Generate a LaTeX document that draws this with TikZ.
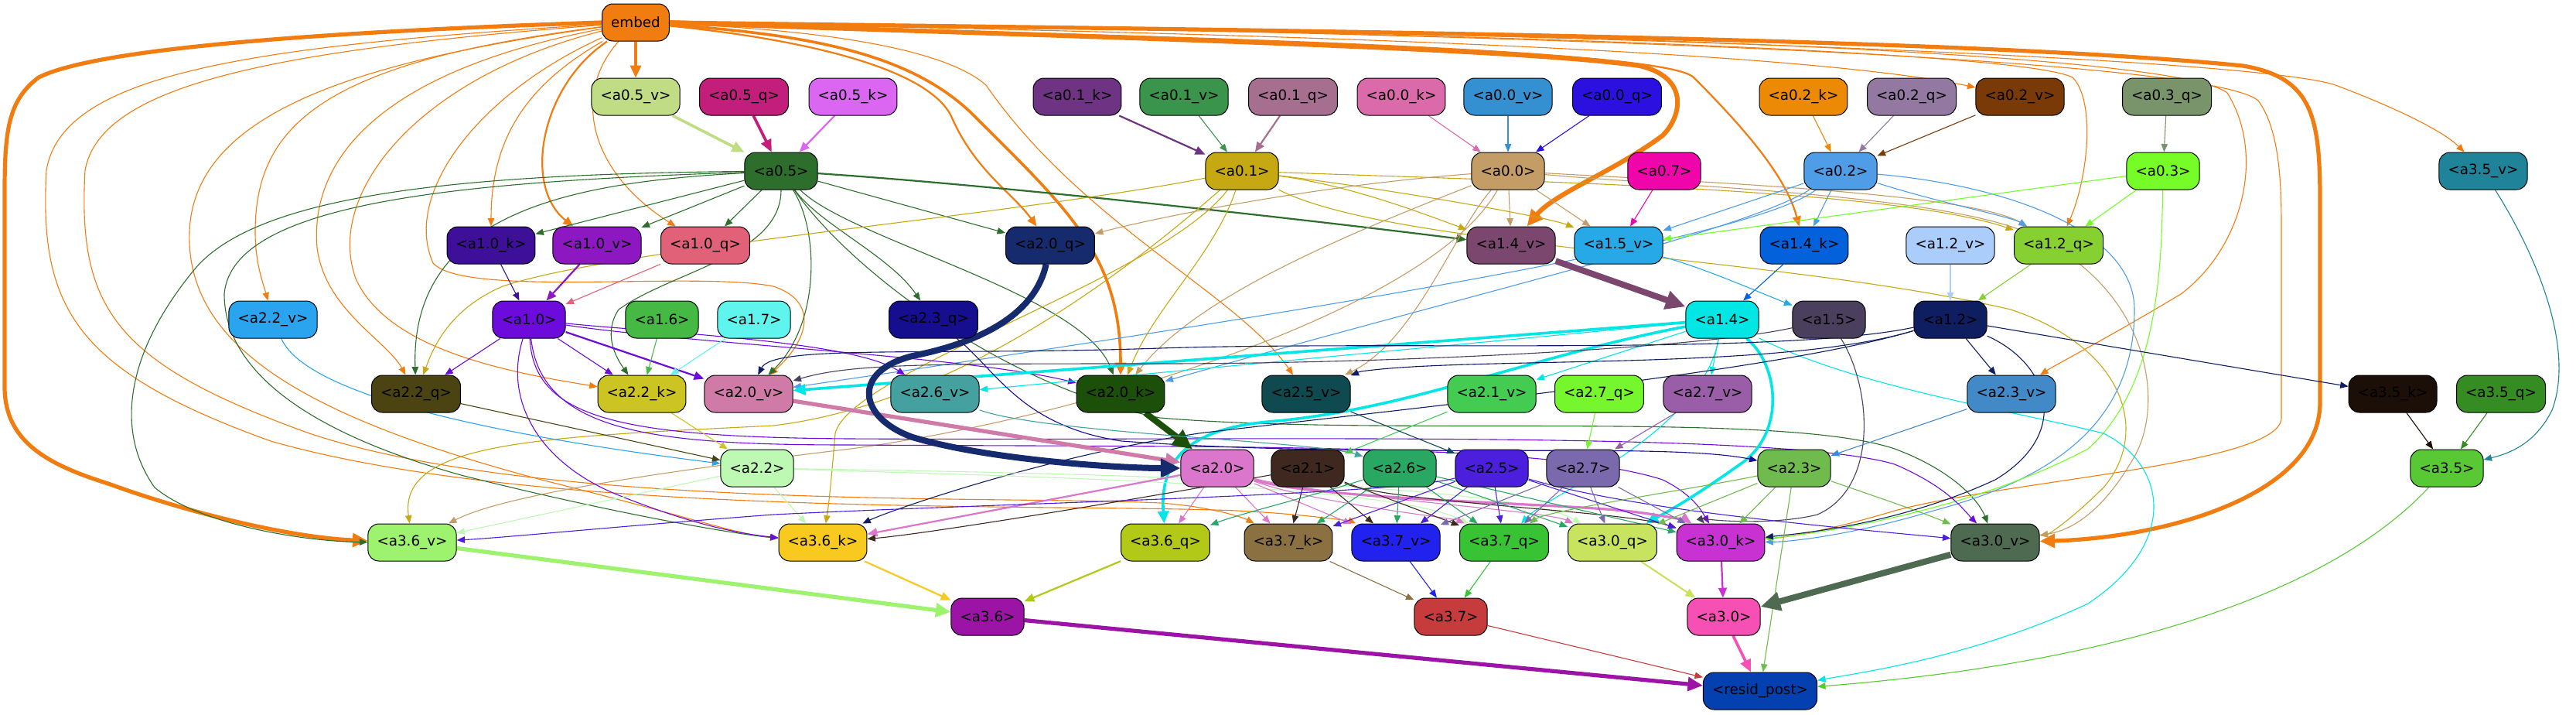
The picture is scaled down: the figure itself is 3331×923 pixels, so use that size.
\documentclass[tikz,border=0pt]{standalone}
\usepackage{fontspec}
\setmainfont{DejaVu Sans}
\usetikzlibrary{arrows.meta}
\pgfdeclarelayer{bg}
\pgfsetlayers{bg,main}
\definecolor{embed}{HTML}{F17C0F}
\definecolor{a05v}{HTML}{C0DC84}
\definecolor{a05q}{HTML}{C41E7C}
\definecolor{a05k}{HTML}{DA66F2}
\definecolor{a01k}{HTML}{6E3382}
\definecolor{a01v}{HTML}{3A944B}
\definecolor{a01q}{HTML}{A66F8F}
\definecolor{a00k}{HTML}{DA6AA9}
\definecolor{a00v}{HTML}{3490D0}
\definecolor{a00q}{HTML}{2C10DF}
\definecolor{a02k}{HTML}{ED8A05}
\definecolor{a02q}{HTML}{9379A1}
\definecolor{a02v}{HTML}{793A08}
\definecolor{a03q}{HTML}{79936A}
\definecolor{a05}{HTML}{2D6E2D}
\definecolor{a01}{HTML}{C5A812}
\definecolor{a00}{HTML}{C49D66}
\definecolor{a07}{HTML}{F005AB}
\definecolor{a02}{HTML}{4F9DE6}
\definecolor{a03}{HTML}{76FD27}
\definecolor{a35v}{HTML}{1F8499}
\definecolor{a10k}{HTML}{3E0F99}
\definecolor{a10v}{HTML}{8D17C1}
\definecolor{a10q}{HTML}{E06178}
\definecolor{a20q}{HTML}{162A6E}
\definecolor{a14v}{HTML}{7B476F}
\definecolor{a15v}{HTML}{27A9E8}
\definecolor{a14k}{HTML}{0461DC}
\definecolor{a12v}{HTML}{ABCDFB}
\definecolor{a12q}{HTML}{86D032}
\definecolor{a22v}{HTML}{2AA4EF}
\definecolor{a10}{HTML}{6D0BDC}
\definecolor{a16}{HTML}{45B944}
\definecolor{a17}{HTML}{5FF4ED}
\definecolor{a23q}{HTML}{150E8E}
\definecolor{a14}{HTML}{03E6E6}
\definecolor{a15}{HTML}{4B3F5E}
\definecolor{a12}{HTML}{0E1E61}
\definecolor{a22q}{HTML}{4B4412}
\definecolor{a22k}{HTML}{CBC423}
\definecolor{a20v}{HTML}{D07BA7}
\definecolor{a26v}{HTML}{45A19F}
\definecolor{a20k}{HTML}{1B4F0A}
\definecolor{a25v}{HTML}{0E4A4F}
\definecolor{a21v}{HTML}{44CB52}
\definecolor{a27q}{HTML}{76F62C}
\definecolor{a27v}{HTML}{9A5EA8}
\definecolor{a23v}{HTML}{4289C8}
\definecolor{a35k}{HTML}{1B0F08}
\definecolor{a35q}{HTML}{348C22}
\definecolor{a22}{HTML}{BDF9B2}
\definecolor{a20}{HTML}{DA76CB}
\definecolor{a21}{HTML}{3E2820}
\definecolor{a26}{HTML}{28A862}
\definecolor{a25}{HTML}{4B1FDB}
\definecolor{a27}{HTML}{7B69AD}
\definecolor{a23}{HTML}{6FBB4E}
\definecolor{a35}{HTML}{58C935}
\definecolor{a36v}{HTML}{9EF36E}
\definecolor{a36k}{HTML}{F8C91F}
\definecolor{a36q}{HTML}{B3C917}
\definecolor{a37k}{HTML}{8B7141}
\definecolor{a37v}{HTML}{2222EE}
\definecolor{a37q}{HTML}{38C335}
\definecolor{a30q}{HTML}{C8E45E}
\definecolor{a30k}{HTML}{C932D2}
\definecolor{a30v}{HTML}{4E6A51}
\definecolor{a36}{HTML}{9B14A6}
\definecolor{a37}{HTML}{C63B3C}
\definecolor{a30}{HTML}{F650B4}
\definecolor{resid}{HTML}{0540B0}
\newcommand{\mknd}[4]{\node[nd,fill=#1] (#1) at (#2,#3) {#4};}
\begin{document}
\begin{tikzpicture}[x=0.5pt,y=-0.5pt,
  nd/.style={draw=black,line width=0.5pt,rounded corners=7pt,minimum height=24pt,inner xsep=5.8pt,inner ysep=0pt,text=black,font=\fontsize{9.15pt}{11pt}\selectfont},
  ar/.style={-{Triangle[length=4pt 2.2,width=3pt 2.2]}},
  w1/.style={line width=0.55pt},
  w2/.style={line width=1.1pt},
  w3/.style={line width=1.8pt},
  w4/.style={line width=2.6pt},
  w5/.style={line width=4pt}]
\useasboundingbox (0,0) rectangle (3331,923);
% nodes
\mknd{embed}{822}{29}{embed}
\mknd{a05v}{822}{125}{<a0.5\_v>}
\mknd{a05q}{962}{125}{<a0.5\_q>}
\mknd{a05k}{1103}{125}{<a0.5\_k>}
\mknd{a01k}{1393}{125}{<a0.1\_k>}
\mknd{a01v}{1531}{125}{<a0.1\_v>}
\mknd{a01q}{1672}{125}{<a0.1\_q>}
\mknd{a00k}{1812}{125}{<a0.0\_k>}
\mknd{a00v}{1950}{125}{<a0.0\_v>}
\mknd{a00q}{2091}{125}{<a0.0\_q>}
\mknd{a02k}{2332}{125}{<a0.2\_k>}
\mknd{a02q}{2472}{125}{<a0.2\_q>}
\mknd{a02v}{2612}{125}{<a0.2\_v>}
\mknd{a03q}{2802}{125}{<a0.3\_q>}
\mknd{a05}{1010}{221}{<a0.5>}
\mknd{a01}{1606}{221}{<a0.1>}
\mknd{a00}{1950}{221}{<a0.0>}
\mknd{a07}{2152}{221}{<a0.7>}
\mknd{a02}{2380}{221}{<a0.2>}
\mknd{a03}{2797}{221}{<a0.3>}
\mknd{a35v}{3211}{221}{<a3.5\_v>}
\mknd{a10k}{635}{317}{<a1.0\_k>}
\mknd{a10v}{772}{317}{<a1.0\_v>}
\mknd{a10q}{912}{317}{<a1.0\_q>}
\mknd{a20q}{1358}{317}{<a2.0\_q>}
\mknd{a14v}{1954}{317}{<a1.4\_v>}
\mknd{a15v}{2093}{317}{<a1.5\_v>}
\mknd{a14k}{2333}{317}{<a1.4\_k>}
\mknd{a12v}{2522}{317}{<a1.2\_v>}
\mknd{a12q}{2662}{317}{<a1.2\_q>}
\mknd{a22v}{353}{413}{<a2.2\_v>}
\mknd{a10}{684}{413}{<a1.0>}
\mknd{a16}{856}{413}{<a1.6>}
\mknd{a17}{975}{413}{<a1.7>}
\mknd{a23q}{1207}{413}{<a2.3\_q>}
\mknd{a14}{2227}{413}{<a1.4>}
\mknd{a15}{2365}{413}{<a1.5>}
\mknd{a12}{2522}{413}{<a1.2>}
\mknd{a22q}{538}{509}{<a2.2\_q>}
\mknd{a22k}{830}{509}{<a2.2\_k>}
\mknd{a20v}{968}{509}{<a2.0\_v>}
\mknd{a26v}{1209}{509}{<a2.6\_v>}
\mknd{a20k}{1449}{509}{<a2.0\_k>}
\mknd{a25v}{1689}{509}{<a2.5\_v>}
\mknd{a21v}{1929}{509}{<a2.1\_v>}
\mknd{a27q}{2068}{509}{<a2.7\_q>}
\mknd{a27v}{2208}{509}{<a2.7\_v>}
\mknd{a23v}{2601}{509}{<a2.3\_v>}
\mknd{a35k}{3094}{509}{<a3.5\_k>}
\mknd{a35q}{3234}{509}{<a3.5\_q>}
\mknd{a22}{979}{605}{<a2.2>}
\mknd{a20}{1574}{605}{<a2.0>}
\mknd{a21}{1691}{605}{<a2.1>}
\mknd{a26}{1810}{605}{<a2.6>}
\mknd{a25}{1929}{605}{<a2.5>}
\mknd{a27}{2047}{605}{<a2.7>}
\mknd{a23}{2320}{605}{<a2.3>}
\mknd{a35}{3164}{605}{<a3.5>}
\mknd{a36v}{533}{701}{<a3.6\_v>}
\mknd{a36k}{1064}{701}{<a3.6\_k>}
\mknd{a36q}{1507}{701}{<a3.6\_q>}
\mknd{a37k}{1666}{701}{<a3.7\_k>}
\mknd{a37v}{1805}{701}{<a3.7\_v>}
\mknd{a37q}{1945}{701}{<a3.7\_q>}
\mknd{a30q}{2085}{701}{<a3.0\_q>}
\mknd{a30k}{2225}{701}{<a3.0\_k>}
\mknd{a30v}{2580}{701}{<a3.0\_v>}
\mknd{a36}{1277}{797}{<a3.6>}
\mknd{a37}{1876}{797}{<a3.7>}
\mknd{a30}{2229}{797}{<a3.0>}
\mknd{resid}{2276}{893}{<resid\_post>}
\begin{pgfonlayer}{bg}
\fill[white] (0,0) rectangle (3331,923);
% embed
\draw[ar,w3,draw=embed] (embed) -- (a05v);
\draw[ar,w4,draw=embed] (embed.west) .. controls (450,40) and (130,60) .. (50,100) .. controls (10,130) and (6,170) .. (6,250) -- (6,500) .. controls (6,570) and (60,600) .. (140,625) .. controls (250,665) and (380,695) .. (a36v);
\draw[ar,line width=3pt,draw=embed] (embed.east) .. controls (1300,45) and (1950,60) .. (2120,85) .. controls (2185,100) and (2175,150) .. (2150,175) .. controls (2090,220) and (2010,250) .. (a14v);
\draw[ar,w4,draw=embed] (embed.east) .. controls (1500,38) and (2500,45) .. (2900,85) .. controls (2990,100) and (3000,150) .. (3000,260) -- (3000,520) .. controls (3000,640) and (2800,695) .. (a30v);
\draw[ar,w3,draw=embed] (embed) .. controls (1050,45) and (1180,70) .. (1260,150) .. controls (1380,270) and (1449,330) .. (a20k);
\draw[ar,w2,draw=embed] (embed) .. controls (1050,52) and (1200,90) .. (1230,150) .. controls (1260,220) and (1310,250) .. (a20q);
\draw[ar,w2,draw=embed] (embed) .. controls (700,110) and (675,240) .. (a10v);
\draw[ar,w1,draw=embed] (embed) .. controls (680,110) and (635,180) .. (a10k);
\draw[ar,w1,draw=embed] (embed) .. controls (740,120) and (760,220) .. (a10q);
\draw[ar,w1,draw=embed] (embed) .. controls (420,80) and (330,160) .. (330,300) .. controls (330,340) and (340,365) .. (a22v);
\draw[ar,w1,draw=embed] (embed) .. controls (500,90) and (400,200) .. (410,320) .. controls (420,400) and (500,440) .. (a22q);
\draw[ar,w1,draw=embed] (embed) .. controls (540,100) and (420,250) .. (460,360) .. controls (500,450) and (650,480) .. (a22k);
\draw[ar,w1,draw=embed] (embed) .. controls (620,120) and (520,250) .. (560,340) .. controls (600,385) and (900,350) .. (1000,370) .. controls (1060,390) and (1045,440) .. (a20v);
\draw[ar,w1,draw=embed] (embed) .. controls (1100,40) and (1230,70) .. (1275,110) .. controls (1400,290) and (1600,380) .. (a25v);
\draw[ar,w1,draw=embed] (embed) .. controls (1500,40) and (2300,60) .. (a02v);
\draw[ar,w1,draw=embed] (embed) .. controls (1600,35) and (2600,60) .. (2680,100) .. controls (2710,130) and (2700,230) .. (a12q);
\draw[ar,w2,draw=embed] (embed) .. controls (1400,45) and (2150,60) .. (2190,100) .. controls (2260,170) and (2310,230) .. (a14k);
\draw[ar,w1,draw=embed] (embed) .. controls (1800,35) and (2900,70) .. (3020,110) .. controls (3100,140) and (3160,170) .. (a35v);
\draw[ar,w1,draw=embed] (embed) .. controls (1800,35) and (2800,60) .. (2880,120) .. controls (2930,200) and (2900,320) .. (2820,380) .. controls (2720,440) and (2660,470) .. (a23v);
\draw[ar,w1,draw=embed] (embed) .. controls (1800,38) and (2850,70) .. (2920,130) .. controls (2950,170) and (2950,250) .. (2950,300) -- (2950,540) .. controls (2950,600) and (2600,620) .. (2450,660) .. controls (2350,690) and (2300,695) .. (a30k);
\draw[ar,w1,draw=embed] (embed) .. controls (450,80) and (250,150) .. (245,300) .. controls (240,450) and (400,540) .. (700,620) .. controls (900,670) and (950,690) .. (a36k);
\draw[ar,w1,draw=embed] (embed) .. controls (350,65) and (130,110) .. (110,220) .. controls (100,400) and (150,470) .. (400,560) .. controls (700,660) and (1300,640) .. (1500,650) .. controls (1570,655) and (1610,670) .. (a37k);
\draw[ar,w1,draw=embed] (embed) .. controls (300,60) and (80,100) .. (60,220) .. controls (50,400) and (100,480) .. (350,570) .. controls (700,670) and (1350,650) .. (1600,660) .. controls (1700,665) and (1750,675) .. (a37v);
% row1 -> row2
\draw[ar,w3,draw=a05v] (a05v) -- (a05);
\draw[ar,w3,draw=a05q] (a05q) -- (a05);
\draw[ar,w2,draw=a05k] (a05k) -- (a05);
\draw[ar,w2,draw=a01k] (a01k) -- (a01);
\draw[ar,w1,draw=a01v] (a01v) -- (a01);
\draw[ar,w2,draw=a01q] (a01q) -- (a01);
\draw[ar,w1,draw=a00k] (a00k) -- (a00);
\draw[ar,w1,draw=a00v] (a00v) -- (a00);
\draw[ar,w1,draw=a00q] (a00q) -- (a00);
\draw[ar,w1,draw=a02k] (a02k) -- (a02);
\draw[ar,w1,draw=a02q] (a02q) -- (a02);
\draw[ar,w1,draw=a02v] (a02v) -- (a02);
\draw[ar,w1,draw=a03q] (a03q) -- (a03);
% a0.5
\draw[ar,w1,draw=a05] (a05) -- (a10k);
\draw[ar,w1,draw=a05] (a05) -- (a10v);
\draw[ar,w1,draw=a05] (a05) -- (a10q);
\draw[ar,w1,draw=a05] (a05) -- (a20q);
\draw[ar,w2,draw=a05] (a05) .. controls (1300,240) and (1700,285) .. (a14v);
\draw[ar,w1,draw=a05] (a05) .. controls (1060,290) and (1150,330) .. (a23q);
\draw[ar,w1,draw=a05] (a05) .. controls (750,235) and (530,270) .. (a22q);
\draw[ar,w1,draw=a05] (a05) .. controls (1010,330) and (870,350) .. (800,400) .. controls (780,430) and (795,460) .. (a22k);
\draw[ar,w1,draw=a05] (a05) .. controls (1060,300) and (1060,420) .. (a20v);
\draw[ar,w1,draw=a05] (a05) .. controls (1100,310) and (1400,380) .. (a20k);
\draw[ar,w1,draw=a05] (a05) .. controls (600,225) and (330,250) .. (250,350) .. controls (160,460) and (150,560) .. (200,630) .. controls (260,680) and (400,700) .. (a36v);
\draw[ar,w1,draw=a05] (a05) .. controls (600,235) and (300,260) .. (290,380) .. controls (290,480) and (400,560) .. (600,615) .. controls (800,665) and (950,690) .. (a36k);
\draw[ar,w1,draw=a05] (a05) .. controls (1100,350) and (1300,500) .. (1500,540) .. controls (1800,565) and (2300,530) .. (2450,580) .. controls (2530,610) and (2560,650) .. (a30v);
% a0.1
\draw[ar,w1,draw=a01] (a01) .. controls (1300,280) and (800,320) .. (650,370) .. controls (580,400) and (560,450) .. (a22q);
\draw[ar,w1,draw=a01] (a01) .. controls (1750,240) and (1850,280) .. (a14v);
\draw[ar,w1,draw=a01] (a01) .. controls (1800,245) and (2000,280) .. (a15v);
\draw[ar,w1,draw=a01] (a01) .. controls (2000,235) and (2450,245) .. (a12q);
\draw[ar,w1,draw=a01] (a01) .. controls (1570,330) and (1490,400) .. (a20k);
\draw[ar,w1,draw=a01] (a01) .. controls (1480,330) and (1250,520) .. (1000,550) .. controls (700,565) and (515,570) .. (a36v);
\draw[ar,w1,draw=a01] (a01) .. controls (1500,360) and (1100,480) .. (1080,560) .. controls (1075,620) and (1072,650) .. (a36k);
\draw[ar,w1,draw=a01] (a01) .. controls (1800,320) and (2300,330) .. (2600,400) .. controls (2750,450) and (2780,560) .. (2720,630) .. controls (2680,670) and (2650,690) .. (a30v);
% a0.0
\draw[ar,w1,draw=a00] (a00) .. controls (1700,240) and (1500,280) .. (a20q);
\draw[ar,w1,draw=a00] (a00) -- (a14v);
\draw[ar,w1,draw=a00] (a00) -- (a15v);
\draw[ar,w1,draw=a00] (a00) .. controls (2200,235) and (2550,250) .. (a12q);
\draw[ar,w1,draw=a00] (a00) .. controls (1750,300) and (1550,380) .. (a20k);
\draw[ar,w1,draw=a00] (a00) .. controls (1880,300) and (1830,440) .. (a25v);
\draw[ar,w1,draw=a00] (a00) .. controls (1850,400) and (1400,540) .. (1100,580) .. controls (850,610) and (650,640) .. (a36v);
\draw[ar,w1,draw=a00] (a00) .. controls (2150,240) and (2500,250) .. (2620,300) .. controls (2780,370) and (2800,520) .. (2760,590) .. controls (2720,660) and (2680,685) .. (a30v);
% a0.2
\draw[ar,w1,draw=a02] (a02) -- (a14k);
\draw[ar,w1,draw=a02] (a02) .. controls (2500,260) and (2600,280) .. (a12q);
\draw[ar,w1,draw=a02] (a02) -- (a15v);
\draw[ar,w1,draw=a02] (a02) .. controls (2250,300) and (1900,380) .. (a20k);
\draw[ar,w1,draw=a02] (a02) .. controls (2250,320) and (1500,430) .. (a20v);
\draw[ar,w1,draw=a02] (a02) .. controls (2600,240) and (2760,300) .. (2760,400) .. controls (2760,550) and (2650,620) .. (2500,660) .. controls (2400,690) and (2320,700) .. (a30k);
% a0.3, a0.7
\draw[ar,w1,draw=a03] (a03) -- (a12q);
\draw[ar,w1,draw=a03] (a03) -- (a15v);
\draw[ar,w1,draw=a03] (a03) .. controls (2795,350) and (2790,500) .. (2700,580) .. controls (2550,660) and (2350,690) .. (a30k);
\draw[ar,w1,draw=a07] (a07) -- (a15v);
% row3 -> row4
\draw[ar,w1,draw=a10k] (a10k) -- (a10);
\draw[ar,w2,draw=a10v] (a10v) -- (a10);
\draw[ar,w1,draw=a10q] (a10q) -- (a10);
\draw[ar,w5,draw=a14v] (a14v) -- (a14);
\draw[ar,w1,draw=a14k] (a14k) -- (a14);
\draw[ar,w1,draw=a15v] (a15v) .. controls (2200,345) and (2280,380) .. (a15);
\draw[ar,w1,draw=a12v] (a12v) -- (a12);
\draw[ar,w1,draw=a12q] (a12q) -- (a12);
% a1.0
\draw[ar,w1,draw=a10] (a10) -- (a22q);
\draw[ar,w1,draw=a10] (a10) -- (a22k);
\draw[ar,w2,draw=a10] (a10) -- (a20v);
\draw[ar,w1,draw=a10] (a10) .. controls (850,430) and (1100,440) .. (a26v);
\draw[ar,w1,draw=a10] (a10) .. controls (900,445) and (1250,460) .. (a20k);
\draw[ar,w1,draw=a10] (a10) .. controls (650,520) and (700,600) .. (800,640) .. controls (900,680) and (960,690) .. (a36k);
\draw[ar,w1,draw=a10] (a10) .. controls (690,540) and (800,565) .. (1100,567) .. controls (1600,570) and (2300,555) .. (2450,600) .. controls (2520,630) and (2540,660) .. (a30v);
\draw[ar,w1,draw=a10] (a10) .. controls (700,560) and (850,575) .. (1100,575) .. controls (1600,578) and (2000,572) .. (2150,620) .. controls (2190,640) and (2200,660) .. (a30k);
\draw[ar,w1,draw=a16] (a16) -- (a22k);
\draw[ar,w1,draw=a17] (a17) -- (a22k);
% a1.4
\draw[ar,w3,draw=a14] (a14) -- (a20v);
\draw[ar,w1,draw=a14] (a14) -- (a26v);
\draw[ar,w1,draw=a14] (a14) -- (a21v);
\draw[ar,w1,draw=a14] (a14) -- (a27v);
\draw[ar,w3,draw=a14] (a14) .. controls (1980,460) and (1820,530) .. (1640,545) .. controls (1530,555) and (1500,600) .. (a36q);
\draw[ar,w3,draw=a14] (a14) .. controls (2300,470) and (2310,560) .. (2250,600) .. controls (2180,650) and (2140,670) .. (a30q);
\draw[ar,w1,draw=a14] (a14) .. controls (2400,500) and (2600,530) .. (2720,560) .. controls (2800,600) and (2820,700) .. (2700,780) .. controls (2550,850) and (2400,870) .. (resid);
\draw[ar,w1,draw=a14] (a14) .. controls (2200,560) and (2000,640) .. (a37q);
% a1.5
\draw[ar,w1,draw=a15] (a15) .. controls (2200,450) and (1800,470) .. (1500,470) .. controls (1200,470) and (1100,470) .. (a20v);
\draw[ar,w1,draw=a15] (a15) .. controls (2420,500) and (2430,630) .. (2350,665) .. controls (2290,680) and (2200,672) .. (a30k);
% a1.2
\draw[ar,w1,draw=a12] (a12) -- (a23v);
\draw[ar,w1,draw=a12] (a12) -- (a35k);
\draw[ar,w1,draw=a12] (a12) .. controls (2650,470) and (2680,560) .. (2580,620) .. controls (2450,680) and (2320,690) .. (a30k);
\draw[ar,w1,draw=a12] (a12) .. controls (2300,460) and (1800,440) .. (1500,450) .. controls (1200,460) and (1000,445) .. (a20v);
\draw[ar,w1,draw=a12] (a12) .. controls (2300,480) and (1900,460) .. (1760,480) .. controls (1755,481) and (1752,483) .. (a25v);
\draw[ar,w1,draw=a12] (a12) .. controls (2300,480) and (1800,530) .. (1550,560) .. controls (1350,590) and (1150,660) .. (a36k);
% a2.3_q
\draw[ar,w1,draw=a23q] (a23q) .. controls (1290,480) and (1320,550) .. (1450,570) .. controls (1800,595) and (2150,570) .. (a23);
% row5 -> row6
\draw[ar,w1,draw=a22v] (a22v) .. controls (400,520) and (700,570) .. (a22);
\draw[ar,w1,draw=a22q] (a22q) -- (a22);
\draw[ar,w1,draw=a22k] (a22k) -- (a22);
\draw[ar,w4,draw=a20v] (a20v) -- (a20);
\draw[ar,w5,draw=a20q] (a20q) .. controls (1340,400) and (1280,440) .. (1180,460) .. controls (1100,480) and (1110,540) .. (1180,565) .. controls (1280,595) and (1450,605) .. (a20);
\draw[ar,w5,draw=a20k] (a20k) -- (a20);
\draw[ar,w1,draw=a26v] (a26v) .. controls (1350,560) and (1700,570) .. (a26);
\draw[ar,w1,draw=a21v] (a21v) -- (a21);
\draw[ar,w1,draw=a25v] (a25v) -- (a25);
\draw[ar,w1,draw=a27q] (a27q) -- (a27);
\draw[ar,w1,draw=a27v] (a27v) -- (a27);
\draw[ar,w1,draw=a23v] (a23v) -- (a23);
\draw[ar,w1,draw=a35k] (a35k) -- (a35);
\draw[ar,w1,draw=a35q] (a35q) -- (a35);
\draw[ar,w1,draw=a35v] (a35v) .. controls (3280,330) and (3330,450) .. (3300,530) .. controls (3280,570) and (3250,585) .. (a35);
% row6 -> row7
\draw[ar,w1,draw=a22] (a22) -- (a36v);
\draw[ar,w1,draw=a22] (a22) -- (a36k);
\draw[ar,w1,draw=a22] (a22) .. controls (1300,615) and (1800,625) .. (a37q);
\draw[ar,w1,draw=a22] (a22) .. controls (1300,610) and (1950,620) .. (a30q);
\draw[ar,w2,draw=a20] (a20) -- (a36k);
\draw[ar,w1,draw=a20] (a20) -- (a36q);
\draw[ar,w1,draw=a20] (a20) -- (a37k);
\draw[ar,w1,draw=a20] (a20) -- (a37v);
\draw[ar,w1,draw=a20] (a20) .. controls (1700,650) and (1880,670) .. (a37q);
\draw[ar,w1,draw=a20] (a20) .. controls (1700,640) and (2000,660) .. (a30q);
\draw[ar,line width=1.6pt,draw=a20] (a20) .. controls (1700,645) and (2000,650) .. (2100,660) .. controls (2150,665) and (2185,675) .. (a30k);
\draw[ar,w1,draw=a21] (a21) .. controls (1500,640) and (1200,690) .. (a36k);
\draw[ar,w1,draw=a21] (a21) -- (a37k);
\draw[ar,w1,draw=a21] (a21) -- (a37v);
\draw[ar,w1,draw=a21] (a21) -- (a37q);
\draw[ar,w1,draw=a21] (a21) .. controls (1800,650) and (2100,660) .. (a30k);
\draw[ar,w1,draw=a26] (a26) .. controls (1700,640) and (1600,665) .. (a36q);
\draw[ar,w1,draw=a26] (a26) -- (a37k);
\draw[ar,w1,draw=a26] (a26) -- (a37v);
\draw[ar,w1,draw=a26] (a26) -- (a37q);
\draw[ar,w1,draw=a26] (a26) -- (a30q);
\draw[ar,w1,draw=a26] (a26) -- (a30k);
\draw[ar,w1,draw=a25] (a25) .. controls (1800,640) and (1300,650) .. (1000,665) .. controls (800,680) and (650,695) .. (a36v);
\draw[ar,w1,draw=a25] (a25) -- (a37k);
\draw[ar,w1,draw=a25] (a25) -- (a37v);
\draw[ar,w1,draw=a25] (a25) -- (a37q);
\draw[ar,w1,draw=a25] (a25) -- (a30k);
\draw[ar,w1,draw=a25] (a25) .. controls (2100,655) and (2300,675) .. (a30v);
\draw[ar,w1,draw=a27] (a27) -- (a37v);
\draw[ar,w1,draw=a27] (a27) -- (a37q);
\draw[ar,w1,draw=a27] (a27) -- (a30q);
\draw[ar,w1,draw=a27] (a27) -- (a30k);
\draw[ar,w1,draw=a23] (a23) -- (a30k);
\draw[ar,w1,draw=a23] (a23) -- (a30q);
\draw[ar,w1,draw=a23] (a23) .. controls (2420,640) and (2480,660) .. (a30v);
\draw[ar,w1,draw=a23] (a23) .. controls (2200,630) and (2000,660) .. (a37q);
\draw[ar,w1,draw=a23] (a23) -- (resid);
% row7 -> row8
\draw[ar,w4,draw=a36v] (a36v) -- (a36);
\draw[ar,w2,draw=a36k] (a36k) -- (a36);
\draw[ar,w2,draw=a36q] (a36q) -- (a36);
\draw[ar,w1,draw=a37k] (a37k) -- (a37);
\draw[ar,w1,draw=a37v] (a37v) -- (a37);
\draw[ar,w1,draw=a37q] (a37q) -- (a37);
\draw[ar,w2,draw=a30q] (a30q) -- (a30);
\draw[ar,w2,draw=a30k] (a30k) -- (a30);
\draw[ar,w5,draw=a30v] (a30v) -- (a30);
% row8 -> resid
\draw[ar,w4,draw=a36] (a36) -- (resid);
\draw[ar,w1,draw=a37] (a37) -- (resid);
\draw[ar,w3,draw=a30] (a30) -- (resid);
\draw[ar,w1,draw=a35] (a35) .. controls (3000,780) and (2700,860) .. (resid);
\end{pgfonlayer}
\end{tikzpicture}
\end{document}
